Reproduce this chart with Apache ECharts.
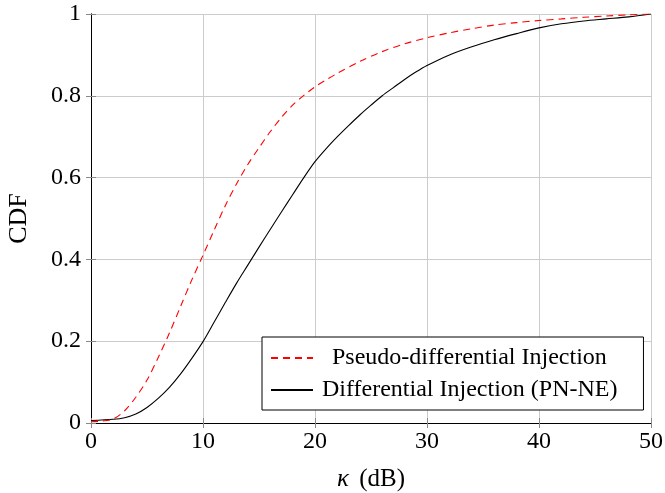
<!DOCTYPE html>
<html><head><meta charset="utf-8">
<script src="https://cdn.jsdelivr.net/npm/echarts@6/dist/echarts.min.js"></script>
<style>html,body{margin:0;padding:0;background:#fff}#c{width:665px;height:493px}</style>
</head><body><div id="c"></div>
<script>
const pseudoX = [0, 1, 2, 3, 4, 5, 6, 7, 8, 9, 10, 11, 12, 13, 14, 15, 16, 17, 18, 19, 20, 21, 22, 24, 26, 28, 30, 32, 34, 36, 38, 40, 42, 44, 46, 48, 50];
const pseudoY = [0.003, 0.005, 0.01, 0.03, 0.063, 0.105, 0.16, 0.22, 0.285, 0.35, 0.41, 0.472, 0.532, 0.585, 0.632, 0.673, 0.712, 0.747, 0.777, 0.801, 0.822, 0.839, 0.855, 0.884, 0.908, 0.927, 0.942, 0.954, 0.964, 0.973, 0.979, 0.984, 0.988, 0.992, 0.995, 0.998, 1.0];
const diffX = [0, 2, 3, 4, 5, 6, 7, 8, 9, 10, 11, 12, 13, 14, 15, 16, 17, 18, 19, 20, 21, 22, 23, 24, 25, 26, 27, 28, 29, 30, 32, 34, 36, 38, 40, 42, 44, 46, 48, 50];
const diffY = [0.006, 0.009, 0.013, 0.022, 0.038, 0.06, 0.087, 0.12, 0.158, 0.199, 0.247, 0.295, 0.342, 0.386, 0.43, 0.473, 0.516, 0.558, 0.6, 0.639, 0.671, 0.7, 0.727, 0.753, 0.777, 0.8, 0.82, 0.84, 0.858, 0.874, 0.9, 0.92, 0.937, 0.952, 0.966, 0.976, 0.983, 0.988, 0.993, 1.0];
const seriesNames = ['Pseudo-differential Injection', 'Differential Injection (PN-NE)'];
const xTicks = [0, 10, 20, 30, 40, 50];
const yTicks = [0, 0.2, 0.4, 0.6, 0.8, 1];

const FONT = '"Liberation Serif", "DejaVu Serif", serif';
const zip = (xs, ys) => xs.map((x, i) => [x, ys[i]]);
const chart = echarts.init(document.getElementById('c'));
const tickStyle = { show: true, inside: true, length: 5, lineStyle: { color: '#888', width: 1 } };
const axisLine = { show: true, lineStyle: { color: '#000', width: 1 } };
chart.setOption({
  animation: false,
  backgroundColor: '#fff',
  grid: { left: 91, top: 14, right: 14, bottom: 70, containLabel: false, outerBoundsMode: 'none' },
  xAxis: [
    { type: 'value', min: xTicks[0], max: xTicks[xTicks.length - 1], interval: 10, position: 'bottom',
      axisLine, axisTick: tickStyle,
      axisLabel: { fontFamily: FONT, fontSize: 24, color: '#000', margin: 7 },
      splitLine: { show: true, lineStyle: { color: '#cccccc', width: 1 } },
      name: '{i|κ} {n|(dB)}', nameLocation: 'middle', nameGap: 44,
      nameTextStyle: { fontFamily: FONT, fontSize: 25, color: '#000',
        rich: { i: { fontFamily: FONT, fontSize: 25, fontStyle: 'italic', color: '#000', padding: [0, 4, 0, 0] },
                n: { fontFamily: FONT, fontSize: 25, color: '#000' } } } },
    { type: 'value', min: 0, max: 50, interval: 10, position: 'top',
      axisLine, axisTick: tickStyle, axisLabel: { show: false }, splitLine: { show: false } }
  ],
  yAxis: [
    { type: 'value', min: yTicks[0], max: yTicks[yTicks.length - 1], interval: 0.2, position: 'left',
      axisLine, axisTick: tickStyle,
      axisLabel: { fontFamily: FONT, fontSize: 24, color: '#000', margin: 10 },
      splitLine: { show: true, lineStyle: { color: '#cccccc', width: 1 } },
      name: 'CDF', nameLocation: 'middle', nameGap: 59, nameRotate: 90,
      nameTextStyle: { fontFamily: FONT, fontSize: 26, color: '#000' } },
    { type: 'value', min: 0, max: 1, interval: 0.2, position: 'right',
      axisLine, axisTick: tickStyle, axisLabel: { show: false }, splitLine: { show: false } }
  ],
  legend: {
    left: 262, top: 337, orient: 'vertical', align: 'left',
    backgroundColor: '#fff', borderColor: '#000', borderWidth: 1, borderRadius: 0,
    padding: [8, 26, 7, 8], itemGap: 6, itemWidth: 42, itemHeight: 14,
    itemStyle: { opacity: 0 },
    data: seriesNames,
    formatter: n => n === seriesNames[0] ? '{p|' + n + '}' : n,
    textStyle: { fontFamily: FONT, fontSize: 24, color: '#000', lineHeight: 26, padding: [0, 0, 0, 4],
      rich: { p: { fontFamily: FONT, fontSize: 24, color: '#000', lineHeight: 26, padding: [0, 0, 0, 10] } } }
  },
  series: [
    { name: seriesNames[0], type: 'line', data: zip(pseudoX, pseudoY), smooth: 0.3,
      showSymbol: false, symbol: 'none', lineStyle: { color: '#ff0000', width: 1.1, type: [7, 5] }, itemStyle: { color: '#ff0000' }, z: 3 },
    { name: seriesNames[1], type: 'line', data: zip(diffX, diffY), smooth: 0.3,
      showSymbol: false, symbol: 'none', lineStyle: { color: '#000', width: 1.1 }, itemStyle: { color: '#000' }, z: 2 }
  ]
});
</script></body></html>
